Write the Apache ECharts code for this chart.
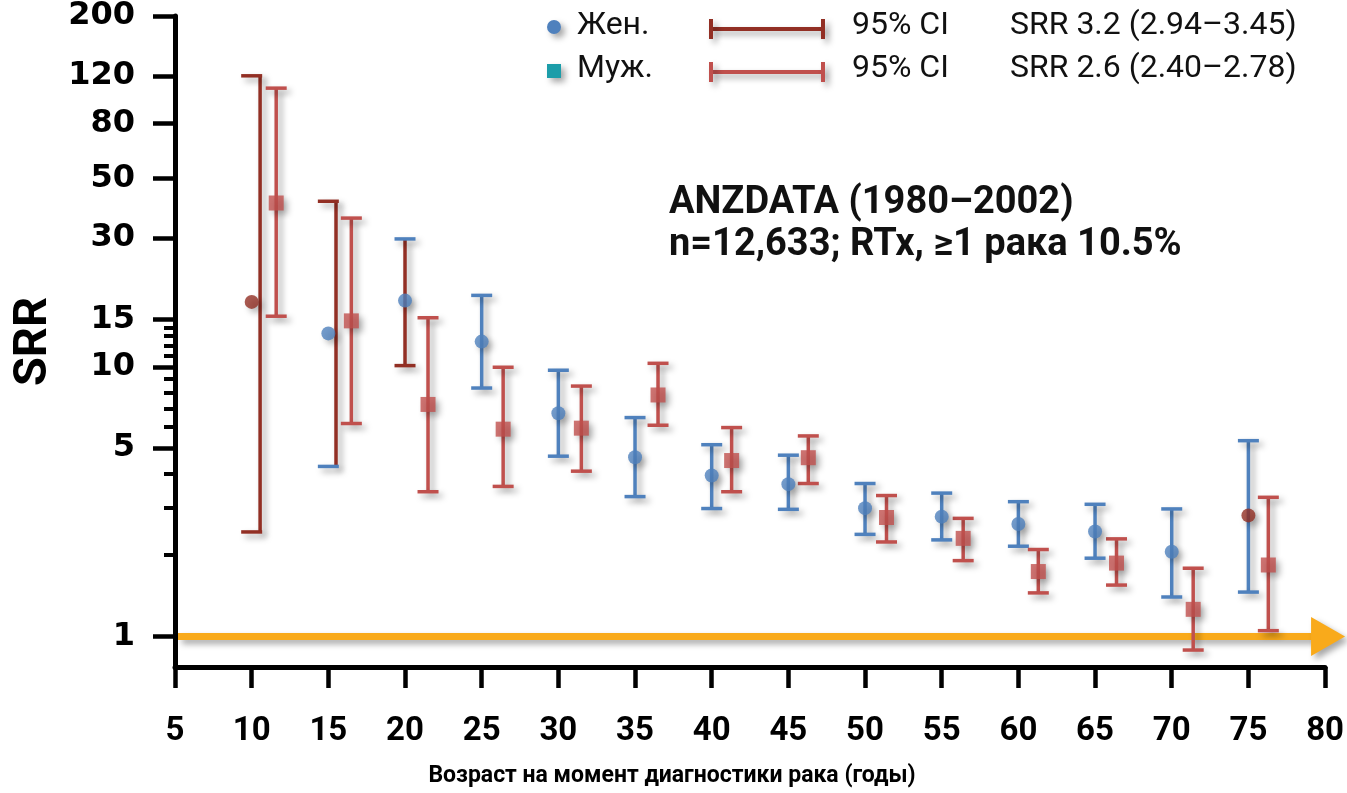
<!DOCTYPE html>
<html>
<head>
<meta charset="utf-8">
<script src="https://cdn.jsdelivr.net/npm/echarts@6/dist/echarts.min.js"></script>
<style>
    html, body {margin: 0; padding: 0; background: #fff;}
    #chartmain {width: 1347px; height: 793px;}
</style>
</head>
<body>
<div id="chartmain"></div>
<script>
// значения (шкала Y логарифмическая)
var womenAge = [10, 15, 20, 25, 30, 35, 40, 45, 50, 55, 60, 65, 70, 75];
var womenBarAge = [10.55, 15.5, 20, 25, 30, 35, 40, 45, 50, 55, 60, 65, 70, 75];
var womenSrr = [17.4, 13.3, 17.6, 12.4, 6.72, 4.62, 3.95, 3.67, 2.99, 2.78, 2.61, 2.45, 2.06, 2.81];
var womenLow = [2.44, 4.27, 10.1, 8.34, 4.66, 3.30, 2.98, 2.96, 2.39, 2.28, 2.16, 1.95, 1.40, 1.46];
var womenHigh = [120, 41.1, 29.8, 18.4, 9.71, 6.48, 5.14, 4.70, 3.69, 3.40, 3.16, 3.09, 2.97, 5.32];

var menAge = [11.6, 16.5, 21.5, 26.4, 31.5, 36.5, 41.3, 46.3, 51.4, 56.4, 61.3, 66.4, 71.4, 76.3];
var menSrr = [40.5, 14.8, 7.25, 5.87, 5.92, 7.86, 4.49, 4.60, 2.76, 2.31, 1.74, 1.87, 1.26, 1.84];
var menLow = [15.4, 6.16, 3.44, 3.60, 4.10, 6.07, 3.44, 3.69, 2.24, 1.91, 1.45, 1.55, 0.89, 1.05];
var menHigh = [108, 35.6, 15.2, 9.96, 8.48, 10.3, 5.95, 5.54, 3.33, 2.74, 2.10, 2.30, 1.79, 3.28];

var yLabelTicks = [1, 5, 10, 15, 30, 50, 80, 120, 200];
var yMinorTicks = [2, 3, 4, 6, 7, 8, 9, 11, 12, 13, 14];
var refLevel = 1;

// цвета
var blue = '#4F81BD', red = '#C0504D', darkRed = '#922F24', orange = '#F9AA1B', teal = '#1C9DA9';
// на исходном слайде часть точек/усов другого цвета (индексы)
var darkDot = [0, 13], darkLine = [0, 1, 2], darkHi = [0, 1], darkLo = [0, 2];
var shadow = {shadowColor: 'rgba(0,0,0,0.35)', shadowBlur: 6, shadowOffsetX: 4, shadowOffsetY: 4};

function pick(list, i, c1, c2) {
    return list.indexOf(i) >= 0 ? c1 : c2;
}

var womenBars = [], womenDots = [], menBars = [], menDots = [];
for (var i = 0; i < womenAge.length; i++) {
    womenBars.push([womenAge[i], womenLow[i], womenHigh[i], womenBarAge[i]]);
    womenDots.push({value: [womenAge[i], womenSrr[i]], itemStyle: {color: pick(darkDot, i, darkRed, blue)}});
}
for (var j = 0; j < menAge.length; j++) {
    menBars.push([menAge[j], menLow[j], menHigh[j], menAge[j]]);
    menDots.push([menAge[j], menSrr[j]]);
}

function makeRender(isWomen) {
    return function (params, api) {
        var i = params.dataIndex;
        var pHi = api.coord([api.value(0), api.value(2)]);
        var pLo = api.coord([api.value(0), api.value(1)]);
        var lx = api.coord([api.value(3), api.value(1)])[0];
        var w = 10.5;
        var cLine = isWomen ? pick(darkLine, i, darkRed, blue) : red;
        var cHi = isWomen ? pick(darkHi, i, darkRed, blue) : red;
        var cLo = isWomen ? pick(darkLo, i, darkRed, blue) : red;
        return {
            type: 'group',
            children: [
                {type: 'line', shape: {x1: lx, y1: pHi[1], x2: lx, y2: pLo[1]},
                    style: Object.assign({stroke: cLine, lineWidth: 3.5}, shadow)},
                {type: 'line', shape: {x1: pHi[0] - w, y1: pHi[1], x2: pHi[0] + w, y2: pHi[1]},
                    style: Object.assign({stroke: cHi, lineWidth: 3.5}, shadow)},
                {type: 'line', shape: {x1: pLo[0] - w, y1: pLo[1], x2: pLo[0] + w, y2: pLo[1]},
                    style: Object.assign({stroke: cLo, lineWidth: 3.5}, shadow)}
            ]
        };
    };
}

var myChart = echarts.init(document.getElementById('chartmain'));

var legendY1 = 29, legendY2 = 72;
function ciLegend(x1, x2, y, color) {
    return [
        {type: 'line', shape: {x1: x1, y1: y, x2: x2, y2: y}, style: Object.assign({stroke: color, lineWidth: 4}, shadow)},
        {type: 'line', shape: {x1: x1, y1: y - 10, x2: x1, y2: y + 10}, style: Object.assign({stroke: color, lineWidth: 4}, shadow)},
        {type: 'line', shape: {x1: x2, y1: y - 10, x2: x2, y2: y + 10}, style: Object.assign({stroke: color, lineWidth: 4}, shadow)}
    ];
}
function legendText(x, y, str) {
    return {type: 'text', left: x, top: y - 19, style: {text: str, font: '32px Roboto', fill: '#111'}};
}

var graphics = [
    {type: 'circle', shape: {cx: 554, cy: legendY1 - 2, r: 7}, style: Object.assign({fill: blue}, shadow)},
    {type: 'rect', shape: {x: 547, y: legendY2 - 8, width: 14, height: 14}, style: Object.assign({fill: teal}, shadow)},
    legendText(577, legendY1, 'Жен.'),
    legendText(577, legendY2, 'Муж.'),
    legendText(852, legendY1, '95% CI'),
    legendText(852, legendY2, '95% CI'),
    legendText(1010, legendY1, 'SRR 3.2 (2.94–3.45)'),
    legendText(1010, legendY2, 'SRR 2.6 (2.40–2.78)'),
    {type: 'text', left: 669, top: 184, style: {text: 'ANZDATA (1980–2002)', font: 'bold 38px Roboto', fill: '#111'}},
    {type: 'text', left: 669, top: 226, style: {text: 'n=12,633; RTx, ≥1 рака 10.5%', font: 'bold 38px Roboto', fill: '#111'}}
].concat(ciLegend(711, 823, legendY1, darkRed), ciLegend(711, 823, legendY2, red));

myChart.setOption({
    animation: false,
    grid: {left: 175, right: 20, top: 12, bottom: 124},
    xAxis: {
        type: 'value',
        min: 5, max: 80, interval: 5,
        name: 'Возраст на момент диагностики рака (годы)',
        nameLocation: 'middle',
        nameGap: 98,
        nameTextStyle: {fontFamily: 'Roboto', fontWeight: 'bold', fontSize: 23, color: '#000', padding: [0, 156, 0, 0]},
        splitLine: {show: false},
        axisLine: {lineStyle: {color: '#000', width: 5}},
        axisTick: {length: 21, lineStyle: {color: '#000', width: 4.5}},
        axisLabel: {margin: 48, fontFamily: 'Roboto', fontWeight: 'bold', fontSize: 33, color: '#000'}
    },
    yAxis: [{
        type: 'log',
        min: 0.77, max: 200,
        name: 'SRR',
        nameLocation: 'middle',
        nameGap: 112,
        nameTextStyle: {fontFamily: 'Roboto', fontWeight: 'bold', fontSize: 47, color: '#000'},
        splitLine: {show: false},
        minorTick: {show: false},
        axisLine: {lineStyle: {color: '#000', width: 5}},
        axisTick: {customValues: yLabelTicks, length: 22, lineStyle: {color: '#000', width: 4.5}},
        axisLabel: {
            customValues: yLabelTicks, margin: 40, padding: [10, 0, 0, 0],
            fontFamily: 'DejaVu Sans', fontWeight: 'bold', fontSize: 32, color: '#000',
            formatter: function (v) { return String(Math.round(v)); }
        }
    }, {
        type: 'log',
        min: 0.77, max: 200,
        position: 'left',
        splitLine: {show: false},
        axisLine: {show: false},
        axisTick: {customValues: yMinorTicks, length: 11, lineStyle: {color: '#000', width: 4}},
        axisLabel: {show: false}
    }],
    graphic: graphics,
    series: [
        {
            // оранжевая стрелка на уровне SRR = 1
            type: 'custom',
            silent: true,
            data: [[5, refLevel, 80]],
            renderItem: function (params, api) {
                var p0 = api.coord([api.value(0), api.value(1)]);
                var p1 = api.coord([api.value(2), api.value(1)]);
                return {
                    type: 'group',
                    children: [
                        {type: 'line', shape: {x1: p0[0] + 3, y1: p0[1], x2: p1[0] - 10, y2: p1[1]},
                            style: Object.assign({stroke: orange, lineWidth: 7}, shadow)},
                        {type: 'polygon', shape: {points: [[p1[0] - 14, p1[1] - 19.5], [p1[0] + 20, p1[1]], [p1[0] - 14, p1[1] + 19.5]]},
                            style: Object.assign({fill: orange}, shadow)}
                    ]
                };
            }
        },
        {type: 'custom', data: womenBars, renderItem: makeRender(true), encode: {x: 0, y: [1, 2]}},
        {type: 'custom', data: menBars, renderItem: makeRender(false), encode: {x: 0, y: [1, 2]}},
        {type: 'scatter', data: womenDots, symbol: 'circle', symbolSize: 14, itemStyle: Object.assign({}, shadow)},
        {type: 'scatter', data: menDots, symbol: 'rect', symbolSize: 15, itemStyle: Object.assign({color: red}, shadow)}
    ]
});
</script>
</body>
</html>
